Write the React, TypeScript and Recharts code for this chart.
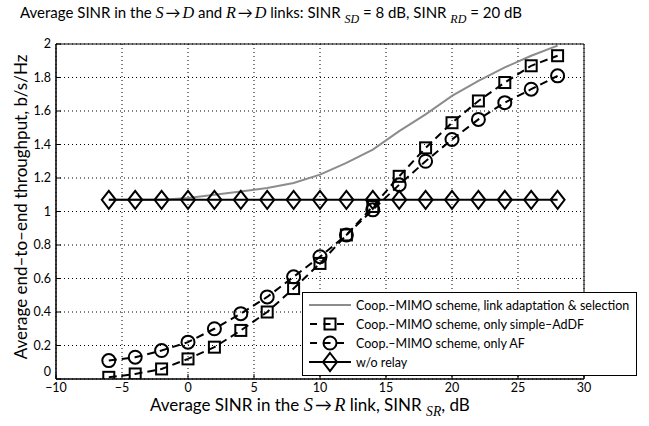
import React from "react";
import { LineChart, Line, XAxis, YAxis, CartesianGrid, ReferenceArea, Legend } from "recharts";

const snrSR = [-6, -4, -2, 0, 2, 4, 6, 8, 10, 12, 14, 16, 18, 20, 22, 24, 26, 28];
const adaptSel = [1.07, 1.07, 1.07, 1.08, 1.1, 1.12, 1.14, 1.17, 1.22, 1.29, 1.37, 1.48, 1.58, 1.69, 1.78, 1.86, 1.93, 1.99];
const simpleAdDF = [0.01, 0.03, 0.06, 0.12, 0.19, 0.29, 0.4, 0.54, 0.69, 0.86, 1.03, 1.21, 1.38, 1.53, 1.66, 1.77, 1.87, 1.93];
const onlyAF = [0.11, 0.13, 0.17, 0.22, 0.3, 0.39, 0.49, 0.61, 0.73, 0.86, 1.01, 1.16, 1.3, 1.43, 1.55, 1.65, 1.73, 1.81];
const noRelay = [1.07, 1.07, 1.07, 1.07, 1.07, 1.07, 1.07, 1.07, 1.07, 1.07, 1.07, 1.07, 1.07, 1.07, 1.07, 1.07, 1.07, 1.07];

const xTicks = [-10, -5, 0, 5, 10, 15, 20, 25, 30];
const yTicks = [0, 0.2, 0.4, 0.6, 0.8, 1, 1.2, 1.4, 1.6, 1.8, 2];

const seriesNames: Record<string, string> = {
  adapt: "Coop.–MIMO scheme, link adaptation & selection",
  addf: "Coop.–MIMO scheme, only simple–AdDF",
  af: "Coop.–MIMO scheme, only AF",
  norelay: "w/o relay",
};
const legendOrder = ["adapt", "addf", "af", "norelay"];

const data = snrSR.map((x, i) => ({
  x,
  adapt: adaptSel[i],
  addf: simpleAdDF[i],
  af: onlyAF[i],
  norelay: noRelay[i],
}));

const FONT = "Lato, 'Open Sans', sans-serif";
const GRAY = "#8c8c8c";

function Square(props: any) {
  const { cx, cy } = props;
  if (cx == null || cy == null) return null;
  return <rect x={cx - 5.5} y={cy - 5.5} width={11} height={11} fill="none" stroke="#000" strokeWidth={2} />;
}

function Circ(props: any) {
  const { cx, cy } = props;
  if (cx == null || cy == null) return null;
  return <circle cx={cx} cy={cy} r={6.5} fill="none" stroke="#000" strokeWidth={2} />;
}

function Diamond(props: any) {
  const { cx, cy } = props;
  if (cx == null || cy == null) return null;
  return (
    <polygon
      points={`${cx},${cy - 9} ${cx + 7},${cy} ${cx},${cy + 9} ${cx - 7},${cy}`}
      fill="none"
      stroke="#000"
      strokeWidth={2}
    />
  );
}

function LegendIcon({ k }: { k: string }) {
  const line =
    k === "adapt" ? (
      <line x1={2} y1={9} x2={44} y2={9} stroke={GRAY} strokeWidth={2} />
    ) : k === "norelay" ? (
      <line x1={2} y1={9} x2={44} y2={9} stroke="#000" strokeWidth={2} />
    ) : (
      <line x1={3} y1={9} x2={43} y2={9} stroke="#000" strokeWidth={2} strokeDasharray="7 6.5" />
    );
  const mark =
    k === "addf" ? <Square cx={23} cy={9} /> : k === "af" ? <Circ cx={23} cy={9} /> : k === "norelay" ? <Diamond cx={23} cy={9} /> : null;
  return (
    <svg width={46} height={19} style={{ display: "block", overflow: "visible" }}>
      {line}
      {mark}
    </svg>
  );
}

// legend keeps the reference's entry order (recharts would sort by name)
function renderLegend() {
  return (
    <div
      style={{
        border: "1px solid #000",
        background: "#fff",
        padding: "3px 6px 3px 4px",
        fontFamily: FONT,
        fontSize: 12.5,
        color: "#000",
        width: 323,
      }}
    >
      {legendOrder.map((k) => (
        <div key={k} style={{ display: "flex", alignItems: "center", height: 19 }}>
          <LegendIcon k={k} />
          <span style={{ marginLeft: 3, whiteSpace: "nowrap" }}>{seriesNames[k]}</span>
        </div>
      ))}
    </div>
  );
}

const fmtX = (v: number) => String(v).replace("-", "−");
const fmtY = (v: number) => String(Math.round(v * 10) / 10);

// y tick text; the "0" sits a little higher so it clears the "−10" below it
function YTick(props: any) {
  const { x, y, payload } = props;
  const lift = payload.value === 0 ? -7 : 0;
  return (
    <text x={x} y={y + lift} dy="0.355em" textAnchor="end" fill="#000" fontSize={12.5} fontFamily={FONT}>
      {fmtY(payload.value)}
    </text>
  );
}

const mathI: React.CSSProperties = { fontFamily: "'Liberation Serif', 'DejaVu Serif', serif", fontStyle: "italic", fontSize: "1.08em" };
const subI: React.CSSProperties = {
  fontFamily: "'Liberation Serif', serif",
  fontStyle: "italic",
  fontSize: "0.8em",
  position: "relative",
  top: "0.4em",
};
const arrow = "\u2009→\u2009";

export default function App() {
  return (
    <div style={{ position: "absolute", left: 0, top: 0, width: 649, height: 426, background: "#fff", fontFamily: FONT }}>
      <LineChart width={649} height={426} data={data} margin={{ top: 44, right: 65, bottom: 17, left: 0 }}>
        <CartesianGrid stroke="#000" strokeDasharray="1 3" strokeWidth={1} verticalValues={xTicks} horizontalValues={yTicks} />
        <XAxis
          dataKey="x"
          type="number"
          domain={[-10, 30]}
          ticks={xTicks}
          tickFormatter={fmtX}
          height={30}
          tickSize={-5}
          tickMargin={9}
          stroke="#000"
          tick={{ fill: "#000", fontSize: 12.5, fontFamily: FONT }}
          allowDataOverflow
        />
        <YAxis
          type="number"
          domain={[0, 2]}
          ticks={yTicks}
          width={56}
          tickSize={-5}
          tickMargin={10}
          stroke="#000"
          tick={<YTick />}
          allowDataOverflow
        />
        <ReferenceArea x1={-10} x2={30} y1={0} y2={2} fill="none" stroke="#000" strokeWidth={1} />
        <Line
          dataKey="adapt"
          name={seriesNames.adapt}
          stroke={GRAY}
          strokeWidth={2}
          dot={false}
          isAnimationActive={false}
          type="linear"
        />
        <Line
          dataKey="norelay"
          name={seriesNames.norelay}
          stroke="#000"
          strokeWidth={2}
          dot={(p: any) => <Diamond key={`d${p.index}`} {...p} />}
          isAnimationActive={false}
          type="linear"
        />
        <Line
          dataKey="addf"
          name={seriesNames.addf}
          stroke="#000"
          strokeWidth={2}
          strokeDasharray="8 5"
          dot={(p: any) => <Square key={`s${p.index}`} {...p} />}
          isAnimationActive={false}
          type="linear"
        />
        <Line
          dataKey="af"
          name={seriesNames.af}
          stroke="#000"
          strokeWidth={2}
          strokeDasharray="8 5"
          dot={(p: any) => <Circ key={`c${p.index}`} {...p} />}
          isAnimationActive={false}
          type="linear"
        />
        <Legend
          layout="vertical"
          align="center"
          verticalAlign="middle"
          content={renderLegend}
          wrapperStyle={{ left: 302, top: 292, width: 335 }}
        />
      </LineChart>

      <div style={{ position: "absolute", left: 20, top: 3, fontSize: 15, whiteSpace: "nowrap", color: "#000" }}>
        Average SINR in the <span style={mathI}>S</span>
        {arrow}
        <span style={mathI}>D</span> and <span style={mathI}>R</span>
        {arrow}
        <span style={mathI}>D</span> links: SINR <span style={subI}>SD</span> = 8 dB, SINR <span style={subI}>RD</span> = 20 dB
      </div>

      <div
        style={{
          position: "absolute",
          left: 150,
          top: 396,
          fontSize: 17,
          lineHeight: "17px",
          whiteSpace: "nowrap",
          color: "#000",
        }}
      >
        Average SINR in the <span style={mathI}>S</span>
        {arrow}
        <span style={mathI}>R</span> link, SINR <span style={subI}>SR</span>, dB
      </div>

      <div
        style={{
          position: "absolute",
          left: 20,
          top: 207,
          transform: "translate(-50%, -50%) rotate(-90deg)",
          fontSize: 17,
          whiteSpace: "nowrap",
          color: "#000",
        }}
      >
        Average end–to–end throughput, b/s/Hz
      </div>
    </div>
  );
}
